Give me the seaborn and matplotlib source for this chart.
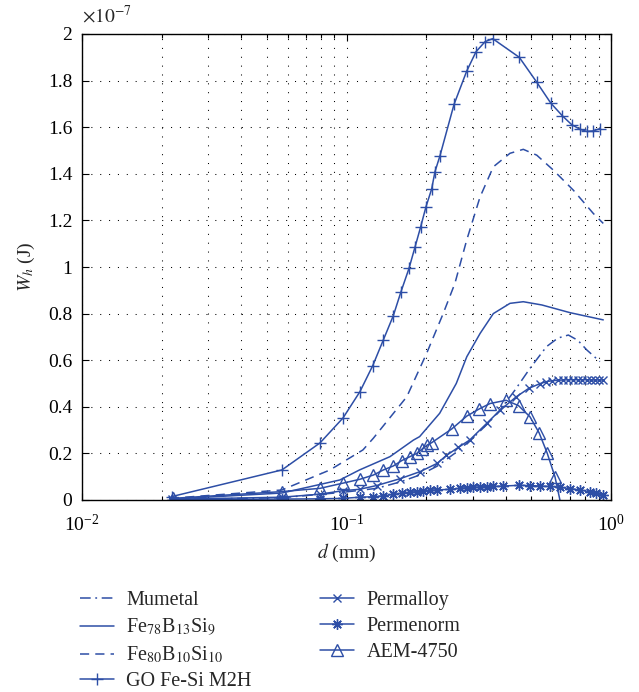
import numpy as np
import pandas as pd
import matplotlib
matplotlib.use("Agg")
import matplotlib.pyplot as plt
import matplotlib.ticker as mticker
import seaborn as sns

# ---------------- data (d in mm, W_h in units of 1e-7 J) ----------------
d_mumetal = [0.0219, 0.057, 0.097, 0.13, 0.16, 0.19, 0.22, 0.26, 0.30, 0.34, 0.38,
             0.4336, 0.494, 0.57, 0.63, 0.69, 0.75, 0.81, 0.908]
w_mumetal = [0.002, 0.010, 0.033, 0.050, 0.078, 0.108, 0.145, 0.205, 0.265, 0.325, 0.385,
             0.472, 0.565, 0.658, 0.695, 0.708, 0.685, 0.644, 0.594]

d_fe78 = [0.0219, 0.057, 0.0944, 0.112, 0.146, 0.179, 0.189, 0.225, 0.26, 0.285, 0.32,
          0.359, 0.415, 0.466, 0.548, 0.70, 0.935]
w_fe78 = [0.004, 0.030, 0.086, 0.129, 0.186, 0.257, 0.272, 0.372, 0.50, 0.615, 0.715,
          0.80, 0.844, 0.851, 0.837, 0.804, 0.773]

d_fe80 = [0.0215, 0.057, 0.0866, 0.1154, 0.1263, 0.169, 0.201, 0.232, 0.257, 0.2848, 0.3197,
          0.359, 0.415, 0.466, 0.524, 0.605, 0.720, 0.857, 0.935]
w_fe80 = [0.007, 0.043, 0.129, 0.215, 0.265, 0.443, 0.63, 0.80, 0.93, 1.116, 1.30,
          1.43, 1.488, 1.505, 1.48, 1.416, 1.33, 1.23, 1.187]

d_go = [0.0219, 0.0570, 0.0794, 0.0970, 0.1124, 0.1257, 0.1378, 0.1503, 0.1607, 0.1723,
        0.1816, 0.1908, 0.1998, 0.2099, 0.2160, 0.2257, 0.2550, 0.2848, 0.3088, 0.3340,
        0.3570, 0.4500, 0.5240, 0.5915, 0.6546, 0.7100, 0.7640, 0.8090, 0.8570, 0.9080]
w_go = [0.015, 0.129, 0.245, 0.352, 0.465, 0.577, 0.687, 0.791, 0.894, 0.994,
        1.086, 1.173, 1.259, 1.335, 1.409, 1.478, 1.698, 1.841, 1.924, 1.967,
        1.980, 1.900, 1.793, 1.704, 1.649, 1.611, 1.591, 1.582, 1.584, 1.594]

d_permalloy = [0.0219, 0.057, 0.0794, 0.097, 0.112, 0.13, 0.16, 0.19, 0.22, 0.2385,
               0.2648, 0.292, 0.339, 0.381, 0.4385, 0.4885, 0.5405, 0.57, 0.60, 0.63,
               0.66, 0.69, 0.72, 0.75, 0.78, 0.81, 0.84, 0.87, 0.90, 0.93]
w_permalloy = [0.003, 0.012, 0.025, 0.040, 0.046, 0.062, 0.092, 0.122, 0.157, 0.191,
               0.226, 0.257, 0.329, 0.386, 0.443, 0.479, 0.500, 0.508, 0.512, 0.514,
               0.515, 0.516, 0.516, 0.516, 0.516, 0.516, 0.515, 0.515, 0.515, 0.515]

d_permenorm = [0.0219, 0.057, 0.0794, 0.0968, 0.1124, 0.1263, 0.1378, 0.1503, 0.1617,
               0.1738, 0.1843, 0.1951, 0.2066, 0.219, 0.2463, 0.2693, 0.2848, 0.3008,
               0.3197, 0.3384, 0.359, 0.391, 0.4508, 0.494, 0.5405, 0.590, 0.641,
               0.702, 0.764, 0.836, 0.881, 0.935]
w_permenorm = [0.001, 0.004, 0.005, 0.007, 0.012, 0.014, 0.018, 0.024, 0.029,
               0.033, 0.036, 0.040, 0.042, 0.043, 0.046, 0.050, 0.053, 0.054,
               0.056, 0.057, 0.058, 0.060, 0.063, 0.062, 0.060, 0.058, 0.054,
               0.049, 0.043, 0.035, 0.028, 0.021]

d_aem = [0.0220, 0.0569, 0.0794, 0.0967, 0.1124, 0.1263, 0.1378, 0.1503, 0.1617, 0.1738,
         0.1843, 0.1924, 0.2020, 0.2099, 0.250, 0.2848, 0.3177, 0.3488, 0.401, 0.447,
         0.494, 0.535, 0.573, 0.614, 0.641]
w_aem = [0.007, 0.036, 0.050, 0.072, 0.089, 0.107, 0.129, 0.146, 0.169, 0.186,
         0.200, 0.217, 0.236, 0.246, 0.305, 0.360, 0.391, 0.414, 0.428, 0.405,
         0.357, 0.288, 0.203, 0.100, 0.0]

labels = ["Mumetal", r"Fe$_{78}$B$_{13}$Si$_{9}$", r"Fe$_{80}$B$_{10}$Si$_{10}$",
          "GO Fe-Si M2H", "Permalloy", "Permenorm", "AEM-4750"]

x_ticks = [0.01, 0.1, 1.0]
y_ticks = [0, 0.2, 0.4, 0.6, 0.8, 1.0, 1.2, 1.4, 1.6, 1.8, 2.0]

# ---------------- style ----------------
sns.set_style("ticks")
plt.rcParams['font.family'] = ['Liberation Serif', 'DejaVu Serif']
plt.rcParams['mathtext.fontset'] = 'stix'
plt.rcParams['axes.unicode_minus'] = True

BLUE = "#2d4ea6"
FS = 14
LFS = 14.5

fig = plt.figure(figsize=(6.39, 6.92), dpi=100)
ax = fig.add_axes([82 / 639, 1 - 500 / 692, (611 - 82) / 639, (500 - 34) / 692])

series = [
    (d_mumetal, w_mumetal, (0, (7, 3, 1.2, 3)), None, 0, None),
    (d_fe78, w_fe78, '-', None, 0, None),
    (d_fe80, w_fe80, (0, (6, 4)), None, 0, None),
    (d_go, w_go, '-', '+', 8.5, None),
    (d_permalloy, w_permalloy, '-', 'x', 6, None),
    (d_permenorm, w_permenorm, '-', (8, 2, 0), 7.5, None),
    (d_aem, w_aem, '-', '^', 9, slice(0, len(d_aem) - 1)),
]

for (dx, wy, ls, mk, ms, me), lab in zip(series, labels):
    kw = dict(color=BLUE, linewidth=1.1, linestyle=ls)
    if mk is not None:
        kw.update(marker=mk, markersize=ms, markerfacecolor='none',
                  markeredgecolor=BLUE, markeredgewidth=1.0)
        if me is not None:
            kw.update(markevery=me)
    sns.lineplot(x=dx, y=wy, ax=ax, label=lab, errorbar=None, sort=False, **kw)

ax.set_xscale('log')
ax.set_xlim(0.01, 1.0)
ax.set_ylim(0, 2)
ax.set_xticks(x_ticks)
ax.xaxis.set_minor_locator(mticker.LogLocator(base=10, subs=np.arange(2, 10)))
ax.xaxis.set_minor_formatter(mticker.NullFormatter())
ax.xaxis.set_major_formatter(mticker.LogFormatterSciNotation())
ax.set_yticks(y_ticks)
ax.yaxis.set_major_formatter(mticker.FuncFormatter(lambda v, p: f"{v:g}"))

dot = (0, (1, 7.5))
ax.grid(True, which='major', axis='both', linestyle=dot, color='k', linewidth=0.75)
ax.grid(True, which='minor', axis='x', linestyle=dot, color='k', linewidth=0.75)

ax.tick_params(axis='both', which='both', direction='in', top=True, right=True,
               labelsize=FS, colors='k')
ax.tick_params(axis='both', which='major', length=5, width=0.8)
ax.tick_params(axis='both', which='minor', length=3, width=0.8)
ax.tick_params(axis='x', which='major', pad=10)
ax.tick_params(axis='y', which='major', pad=7)
for sp in ax.spines.values():
    sp.set_color('k')
    sp.set_linewidth(1.0)

ax.set_xlabel(r"$d$ (mm)", fontsize=FS, labelpad=5)
ax.set_ylabel(r"$W_h$ (J)", fontsize=FS, labelpad=8)
ax.text(0.0, 1.015, r"$\times10^{-7}$", transform=ax.transAxes, ha='left', va='bottom',
        fontsize=FS)

handles, labs = ax.get_legend_handles_labels()
ax.get_legend().remove()
fig.legend(handles, labs, loc='upper left', bbox_to_anchor=(80 / 639, 1 - 591 / 692),
           ncol=2, frameon=False, fontsize=LFS, handlelength=1.7, handletextpad=0.6,
           columnspacing=3.4, labelspacing=0.33, borderpad=0, borderaxespad=0)

fig.savefig("out.png", dpi=100, facecolor='white')
